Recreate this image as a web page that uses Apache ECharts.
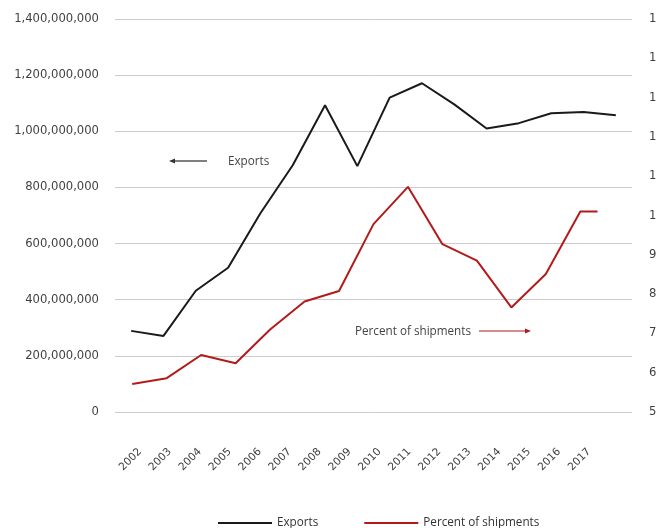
<!DOCTYPE html>
<html>
<head>
<meta charset="utf-8">
<script src="https://cdn.jsdelivr.net/npm/echarts@6/dist/echarts.min.js"></script>
<style>html,body{margin:0;padding:0;background:#fff}#c{width:657px;height:528px}</style>
</head>
<body>
<div id="c"></div>
<script>
const years = ['2002','2003','2004','2005','2006','2007','2008','2009','2010','2011','2012','2013','2014','2015','2016','2017'];
const exportsValues = [289e6, 271e6, 432e6, 514e6, 708e6, 879e6, 1093e6, 876e6, 1120e6, 1171e6, 1096e6, 1010e6, 1029e6, 1064e6, 1069e6, 1057e6];
const pctPositions = [0, 1, 2, 3, 4, 5, 6, 7, 8, 9, 10, 11, 12, 13, 13.5];
const pctValues = [5.71, 5.86, 6.45, 6.24, 7.10, 7.81, 8.08, 9.78, 10.73, 9.27, 8.85, 7.66, 8.51, 10.10, 10.10];
const leftTicks = {min: 0, max: 1.4e9, interval: 2e8};
const rightTicks = {min: 5, max: 15, interval: 1};

const chart = echarts.init(document.getElementById('c'), null, {renderer: 'canvas'});
const axisFont = {fontFamily: 'DejaVu Sans', fontSize: 11.6, color: '#404040'};
const textFont = 'Open Sans';
const textSize = 11.7;

chart.setOption({
  animation: false,
  backgroundColor: '#fff',
  grid: [
    {left: 115, right: 25, top: 19, bottom: 116, containLabel: false, outerBoundsMode: 'none'},
    {left: 140, right: 68, top: 19, bottom: 116, containLabel: false, outerBoundsMode: 'none'}
  ],
  xAxis: [
    {gridIndex: 0, type: 'category', data: years, boundaryGap: true,
     axisLine: {show: false}, axisTick: {show: false}, axisLabel: {show: false}},
    {gridIndex: 1, type: 'category', data: years, boundaryGap: false,
     axisLine: {show: false}, axisTick: {show: false},
     axisLabel: {rotate: 45, margin: 38, interval: 0, fontFamily: 'DejaVu Sans', fontSize: 10.6, color: '#404040'}},
    {gridIndex: 0, type: 'value', min: -0.5, max: 14.5, show: false}
  ],
  yAxis: [
    {gridIndex: 0, type: 'value', min: leftTicks.min, max: leftTicks.max, interval: leftTicks.interval,
     axisLine: {show: false}, axisTick: {show: false},
     splitLine: {lineStyle: {color: '#cccccc', width: 1}},
     axisLabel: Object.assign({margin: 16, formatter: v => v.toLocaleString('en-US')}, axisFont)},
    {gridIndex: 0, type: 'value', position: 'right', min: rightTicks.min, max: rightTicks.max, interval: rightTicks.interval,
     axisLine: {show: false}, axisTick: {show: false}, splitLine: {show: false},
     axisLabel: Object.assign({margin: 17, align: 'left'}, axisFont)},
    {gridIndex: 1, type: 'value', show: false}
  ],
  legend: {
    bottom: -1, left: 218, padding: 0, itemWidth: 54, itemHeight: 2, itemGap: 46, icon: 'rect',
    textStyle: {fontFamily: textFont, fontSize: textSize, color: '#333'},
    data: ['Exports', 'Percent of shipments']
  },
  series: [
    {name: 'Exports', type: 'line', xAxisIndex: 0, yAxisIndex: 0, data: exportsValues,
     symbol: 'none', lineStyle: {color: '#1a1a1a', width: 2}, itemStyle: {color: '#1a1a1a'}},
    {name: 'Percent of shipments', type: 'line', xAxisIndex: 2, yAxisIndex: 1,
     data: pctPositions.map((p, i) => [p, pctValues[i]]),
     symbol: 'none', lineStyle: {color: '#b31b1b', width: 2}, itemStyle: {color: '#b31b1b'}}
  ],
  graphic: [
    {type: 'line', shape: {x1: 207, y1: 161, x2: 173, y2: 161}, style: {stroke: '#555', lineWidth: 1.5}},
    {type: 'polygon', shape: {points: [[169, 161], [175, 158.5], [175, 163.5]]}, style: {fill: '#333'}},
    {type: 'text', left: 228, top: 156, style: {text: 'Exports', fontFamily: textFont, fontSize: textSize, fill: '#444'}},
    {type: 'text', left: 355, top: 326, style: {text: 'Percent of shipments', fontFamily: textFont, fontSize: textSize, fill: '#444'}},
    {type: 'line', shape: {x1: 479, y1: 331, x2: 526, y2: 331}, style: {stroke: '#b31b1b', lineWidth: 1.2}},
    {type: 'polygon', shape: {points: [[531, 331], [525, 328.5], [525, 333.5]]}, style: {fill: '#b31b1b'}}
  ]
});
</script>
</body>
</html>
